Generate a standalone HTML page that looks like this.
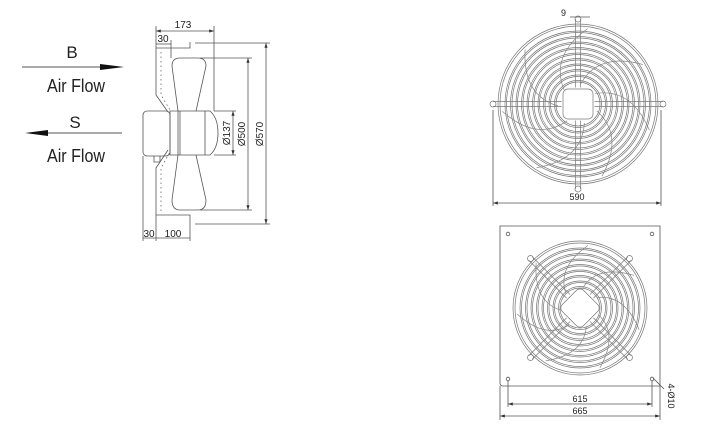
<!DOCTYPE html>
<html><head><meta charset="utf-8"><style>
html,body{margin:0;padding:0;background:#fff;width:709px;height:427px;overflow:hidden}
svg{display:block}
text{font-family:"Liberation Sans",sans-serif;fill:#222}
</style></head><body>
<svg id="s" width="709" height="427" viewBox="0 0 709 427" xmlns="http://www.w3.org/2000/svg">
<defs>
<marker id="a" markerWidth="6" markerHeight="4" refX="6" refY="2" orient="auto"><path d="M0,0 L6,2 L0,4Z" fill="#333"/></marker>
<marker id="b" markerWidth="6" markerHeight="4" refX="0" refY="2" orient="auto"><path d="M6,0 L0,2 L6,4Z" fill="#333"/></marker>
</defs>
<text x="72" y="58" font-size="17" text-anchor="middle">B</text>
<line x1="22" y1="67" x2="108" y2="67" stroke="#555" stroke-width="1"/>
<path d="M100,64 L124,67 L100,70Z" fill="#111"/>
<text x="76" y="92" font-size="18" text-anchor="middle" textLength="58" lengthAdjust="spacingAndGlyphs">Air Flow</text>
<text x="75" y="128" font-size="17" text-anchor="middle">S</text>
<line x1="40" y1="133" x2="122" y2="133" stroke="#555" stroke-width="1"/>
<path d="M48,130 L25,133 L48,136Z" fill="#111"/>
<text x="76" y="162" font-size="18" text-anchor="middle" textLength="58" lengthAdjust="spacingAndGlyphs">Air Flow</text>

<g fill="none" stroke="#555" stroke-width="0.8">
<path d="M156,48 L156,95 L168,112"/>
<path d="M156,48 L190,48 L190,42"/>
<path d="M156,215 L156,168 L168,150"/>
<path d="M156,215 L190,215 L190,224"/>
<path d="M161,52 L161,95 L170,110 M161,211 L161,168 L170,152" stroke-dasharray="1.5 3" stroke="#666"/>
<rect x="143" y="111" width="27" height="45" rx="4"/>
<path d="M154,156 v6 h6 v-6"/>
<path d="M170,111 L210,111 Q218,118 218,133 Q218,148 210,155 L170,155Z"/>
<line x1="178" y1="111" x2="178" y2="155"/><line x1="180" y1="111" x2="180" y2="155"/><line x1="205" y1="111" x2="205" y2="155"/>
<path d="M178,111 L172,66 Q172,58 180,58 L198,58 Q206,58 206,66 L196,111"/>
<path d="M178,155 L172,200 Q172,210 180,210 L198,210 Q206,210 206,200 L196,155"/>
<line x1="156" y1="31" x2="214" y2="31" marker-start="url(#b)" marker-end="url(#a)"/>
<line x1="156" y1="26" x2="156" y2="48"/><line x1="214" y1="26" x2="214" y2="111"/>
<line x1="156" y1="44" x2="171" y2="44"/><line x1="171" y1="40" x2="171" y2="58"/>
<line x1="195" y1="43" x2="270" y2="43"/><line x1="195" y1="224" x2="270" y2="224"/>
<line x1="266" y1="43" x2="266" y2="224" marker-start="url(#b)" marker-end="url(#a)"/>
<line x1="200" y1="58" x2="252" y2="58"/><line x1="200" y1="210" x2="252" y2="210"/>
<line x1="248" y1="58" x2="248" y2="210" marker-start="url(#b)" marker-end="url(#a)"/>
<line x1="214" y1="111" x2="236" y2="111"/><line x1="214" y1="155" x2="236" y2="155"/>
<line x1="233" y1="111" x2="233" y2="155" marker-start="url(#b)" marker-end="url(#a)"/>
<line x1="143" y1="156" x2="143" y2="241"/><line x1="156" y1="215" x2="156" y2="241"/><line x1="190" y1="224" x2="190" y2="241"/>
<line x1="143" y1="238" x2="190" y2="238"/>
<g id="f1" stroke="#777" stroke-width="0.7"></g>
<line x1="493" y1="110" x2="493" y2="206"/><line x1="661" y1="110" x2="661" y2="206"/>
<line x1="493" y1="203" x2="661" y2="203" marker-start="url(#b)" marker-end="url(#a)"/>
<line x1="570" y1="17" x2="590" y2="17"/>
<path d="M500,226 L660,226 L660,386 L503,386 Q500,386 500,383Z"/>
<circle cx="508" cy="234" r="1.8"/><circle cx="652" cy="234" r="1.8"/><circle cx="508" cy="379" r="1.8"/><circle cx="652" cy="379" r="1.8"/>
<g id="f2" stroke="#777" stroke-width="0.7"></g>
<line x1="508" y1="381" x2="508" y2="407"/><line x1="652" y1="381" x2="652" y2="407"/>
<line x1="508" y1="404" x2="652" y2="404" marker-start="url(#b)" marker-end="url(#a)"/>
<line x1="500" y1="386" x2="500" y2="420"/><line x1="660" y1="386" x2="660" y2="420"/>
<line x1="500" y1="416" x2="660" y2="416" marker-start="url(#b)" marker-end="url(#a)"/>
<line x1="653" y1="378" x2="664" y2="389"/>
</g>
<text x="183" y="28" font-size="10" text-anchor="middle">173</text>
<text x="163" y="42" font-size="10" text-anchor="middle">30</text>
<text x="149" y="237" font-size="10" text-anchor="middle">30</text>
<text x="173" y="237" font-size="10" text-anchor="middle">100</text>
<text transform="translate(230,133) rotate(-90)" font-size="10" text-anchor="middle">Ø137</text>
<text transform="translate(245,134) rotate(-90)" font-size="10" text-anchor="middle">Ø500</text>
<text transform="translate(263,134) rotate(-90)" font-size="10" text-anchor="middle">Ø570</text>
<text x="561" y="16" font-size="9">9</text>
<text x="577" y="200" font-size="9" text-anchor="middle">590</text>
<text x="580" y="402" font-size="9" text-anchor="middle">615</text>
<text x="580" y="414" font-size="9" text-anchor="middle">665</text>
<text transform="translate(668,396) rotate(90)" font-size="9" text-anchor="middle">4-Ø10</text>
</svg>
<script>
function fan(id,cx,cy,R,rot,ext){
 var g=document.getElementById(id),h='';
 h+='<circle cx="'+cx+'" cy="'+cy+'" r="'+R+'"/>';
 h+='<circle cx="'+cx+'" cy="'+cy+'" r="'+(R-2)+'"/>';
 for(var r=R-7;r>18;r-=5.5){h+='<circle cx="'+cx+'" cy="'+cy+'" r="'+r+'"/><circle cx="'+cx+'" cy="'+cy+'" r="'+(r-1.5)+'"/>';}
 var s=15;
 h+='<rect x="'+(cx-s)+'" y="'+(cy-s)+'" width="'+(2*s)+'" height="'+(2*s)+'" rx="5" fill="#fff" transform="rotate('+rot+' '+cx+' '+cy+')"/>';
 for(var k=0;k<4;k++){var a=(rot+k*90)*Math.PI/180,c=Math.cos(a),si=Math.sin(a),px=-si*2.5,py=c*2.5;
  var x1=cx+c*s*1.1,y1=cy+si*s*1.1,x2=cx+c*ext,y2=cy+si*ext;
  h+='<line x1="'+(x1+px)+'" y1="'+(y1+py)+'" x2="'+(x2+px)+'" y2="'+(y2+py)+'"/><line x1="'+(x1-px)+'" y1="'+(y1-py)+'" x2="'+(x2-px)+'" y2="'+(y2-py)+'"/>';
  h+='<circle cx="'+x2+'" cy="'+y2+'" r="3"/>';}
 for(var k=0;k<7;k++){var a0=(k*360/7+20)*Math.PI/180,a1=a0+0.9;
  var x0=cx+Math.cos(a0)*20,y0=cy+Math.sin(a0)*20,xe=cx+Math.cos(a1)*(R-4),ye=cy+Math.sin(a1)*(R-4),am=a0+0.25;
  var xm=cx+Math.cos(am)*R*0.7,ym=cy+Math.sin(am)*R*0.7;
  h+='<path d="M'+x0+','+y0+' Q'+xm+','+ym+' '+xe+','+ye+'" stroke="#888"/>';}
 g.innerHTML=h;
}
fan('f1',578,104,80,0,85);
fan('f2',580,308,67,45,70);
</script>
</body></html>
